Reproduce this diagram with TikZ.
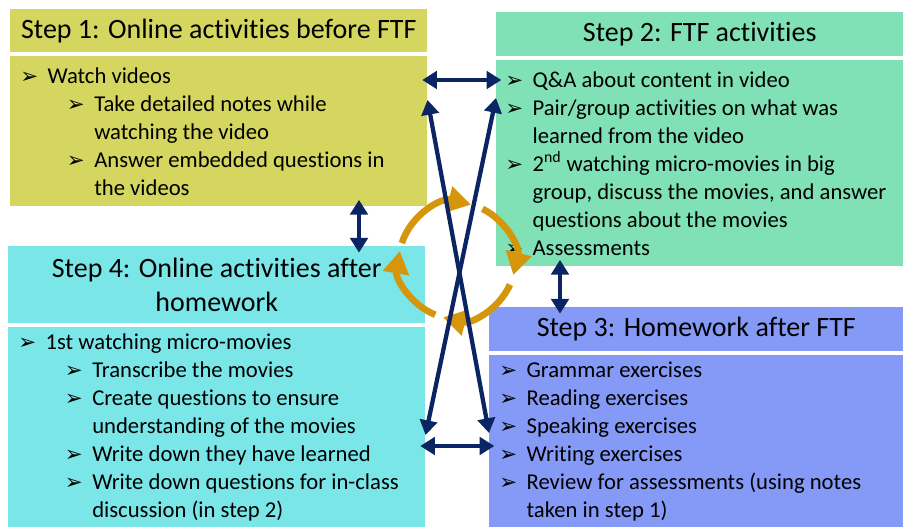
\documentclass[tikz,border=0pt]{standalone}
\usepackage{fontspec}
\setmainfont[Ligatures=NoCommon]{Carlito}
\newfontfamily\bulletfont{DejaVu Sans}
\usetikzlibrary{arrows.meta, positioning}

\definecolor{stepone}{RGB}{213,214,95}
\definecolor{steptwo}{RGB}{128,225,183}
\definecolor{stepthree}{RGB}{133,154,246}
\definecolor{stepfour}{RGB}{122,230,232}
\definecolor{navyline}{RGB}{10,36,100}
\definecolor{cyclecol}{RGB}{213,150,12}

% list bullets and indents
\newcommand{\bul}{\makebox[20.5pt][l]{\bulletfont\fontsize{16}{16}\selectfont ➢}}
\newcommand{\subbul}{\hspace*{35pt}\bul}
\newcommand{\wrapone}{\hspace*{20.5pt}}
\newcommand{\wraptwo}{\hspace*{55.5pt}}

\begin{document}
\begin{tikzpicture}[x=0.75pt, y=-0.75pt,
    hdr/.style={anchor=north west, inner sep=0pt, align=center,
        font=\fontsize{21}{26}\selectfont},
    pane/.style={anchor=north west, inner sep=0pt},
    items/.style={inner sep=0pt, align=left, font=\fontsize{17}{21}\selectfont},
    link/.style={{Triangle[length=11pt,width=13pt]}-{Triangle[length=11pt,width=13pt]},
        line width=3.2pt, navyline},
    cyc/.style={-{Triangle[length=17pt,width=19pt]}, line width=5pt, cyclecol}]

    \useasboundingbox (0,0) rectangle (903,527);

    % step 1
    \node[hdr, fill=stepone, minimum width=312.75pt, minimum height=32.25pt] (s1h) at (10,9)
        {Step 1: Online activities before FTF};
    \node[pane, fill=stepone, minimum width=312.75pt, minimum height=112.5pt] (s1b) at (10,56) {};
    \node[items, right=7.5pt of s1b.west] (s1t) {%
        \bul Watch videos\\
        \subbul Take detailed notes while\\
        \wraptwo watching the video\\
        \subbul Answer embedded questions in\\
        \wraptwo the videos};

    % step 2
    \node[hdr, fill=steptwo, minimum width=305.25pt, minimum height=33pt] (s2h) at (496,12)
        {Step 2: FTF activities};
    \node[pane, fill=steptwo, minimum width=305.25pt, minimum height=154.5pt] (s2b) at (496,60) {};
    \node[items, right=6.75pt of s2b.west] (s2t) {%
        \bul Q\&A about content in video\\
        \bul Pair/group activities on what was\\
        \wrapone learned from the video\\
        \bul 2\textsuperscript{nd} watching micro-movies in big\\
        \wrapone group, discuss the movies, and answer\\
        \wrapone questions about the movies\\
        \bul Assessments};

    % step 3
    \node[hdr, fill=stepthree, minimum width=310.5pt, minimum height=33pt] (s3h) at (489,307)
        {Step 3: Homework after FTF};
    \node[pane, fill=stepthree, minimum width=310.5pt, minimum height=129pt] (s3b) at (489,355) {};
    \node[items, right=7.5pt of s3b.west] (s3t) {%
        \bul Grammar exercises\\
        \bul Reading exercises\\
        \bul Speaking exercises\\
        \bul Writing exercises\\
        \bul Review for assessments (using notes\\
        \wrapone taken in step 1)};

    % step 4
    \node[hdr, fill=stepfour, minimum width=312.75pt, minimum height=57.75pt] (s4h) at (8,246)
        {Step 4: Online activities after\\homework};
    \node[pane, fill=stepfour, minimum width=312.75pt, minimum height=150pt] (s4b) at (8,327) {};
    \node[items, right=7.5pt of s4b.west] (s4t) {%
        \bul 1st watching micro-movies\\
        \subbul Transcribe the movies\\
        \subbul Create questions to ensure\\
        \wraptwo understanding of the movies\\
        \subbul Write down they have learned\\
        \subbul Write down questions for in-class\\
        \wraptwo discussion (in step 2)};

    % cycle in the middle
    \begin{scope}[shift={(457,261)}, y=0.75pt]
        \foreach \a/\b in {162/76, 64/-14, -24/-104, -112/-190}
            \draw[cyc] (\a:58) arc[start angle=\a, end angle=\b, radius=58];
    \end{scope}

    % links between the steps
    \draw[link, shorten <=-4pt, shorten >=-4pt] (s1b.east |- 0,80) -- (s2b.west |- 0,80);
    \draw[link, shorten <=-5pt, shorten >=-5pt] (s1b.south -| 359,0) -- (s4h.north -| 359,0);
    \draw[link, shorten <=-5pt, shorten >=-5pt] (s2b.south -| 560,0) -- (s3h.north -| 560,0);
    \draw[link, shorten <=-4pt, shorten >=-4pt] (s4b.east |- 0,446) -- (s3b.west |- 0,446);
    \draw[link] (s1b.east |- 0,100) -- (s3b.west |- 0,433);
    \draw[link] (s2b.west |- 0,98) -- (s4b.east |- 0,435);
\end{tikzpicture}
\end{document}
